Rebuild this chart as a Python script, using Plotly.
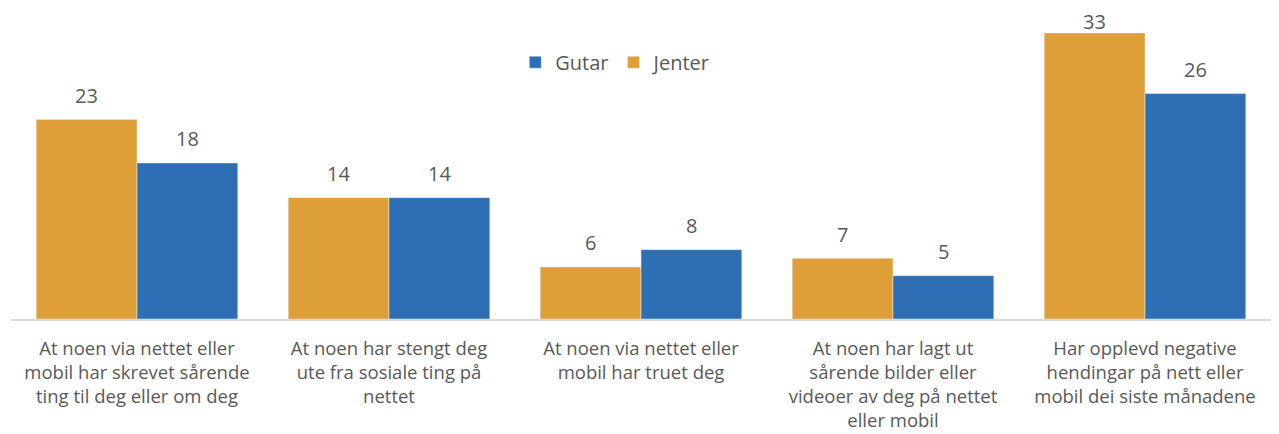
import plotly.graph_objects as go

categories = [
    "At noen via nettet eller<br>mobil har skrevet sårende<br>ting til deg eller om deg",
    "At noen har stengt deg<br>ute fra sosiale ting på<br>nettet",
    "At noen via nettet eller<br>mobil har truet deg",
    "At noen har lagt ut<br>sårende bilder eller<br>videoer av deg på nettet<br>eller mobil",
    "Har opplevd negative<br>hendingar på nett eller<br>mobil dei siste månadene",
]
jenter = [23, 14, 6, 7, 33]
gutar = [18, 14, 8, 5, 26]

font_family = "Open Sans, Noto Sans, sans-serif"
text_color = "#595959"
colors = {"Jenter": "#DF9F38", "Gutar": "#2D6EB5"}

height = 434
margin = dict(l=11, r=8, t=0, b=115)
y_max = 36.8
plot_h = height - margin["t"] - margin["b"]
px_per_unit = plot_h / y_max

fig = go.Figure()
for name, vals in (("Jenter", jenter), ("Gutar", gutar)):
    fig.add_trace(go.Bar(
        name=name, x=categories, y=vals, marker_color=colors[name],
        offsetgroup=name,
    ))

# value labels above each bar, kept inside the plot area near the top
offsets = {"Jenter": -0.2, "Gutar": 0.2}
for name, vals in (("Jenter", jenter), ("Gutar", gutar)):
    for i, v in enumerate(vals):
        room = plot_h - 22 - v * px_per_unit
        fig.add_annotation(
            x=i + offsets[name], y=v, xref="x", yref="y",
            text=str(v), showarrow=False, yanchor="middle",
            yshift=min(24, room),
            font=dict(size=20, color=text_color, family=font_family),
        )

fig.update_layout(
    width=1279, height=height,
    margin=margin,
    barmode="group", bargap=0.2, bargroupgap=0,
    plot_bgcolor="white", paper_bgcolor="white",
    font=dict(family=font_family, color=text_color, size=20),
    showlegend=True,
    legend=dict(
        orientation="h", traceorder="reversed",
        x=0.48, y=0.805, xanchor="center", yanchor="middle",
        font=dict(size=20, color=text_color),
        itemwidth=30,
    ),
)
fig.update_xaxes(
    showline=True, linecolor="#D9D9D9", linewidth=2,
    tickfont=dict(size=18.5, color=text_color, family=font_family),
    ticks="", tickangle=0, ticklabelstandoff=12, automargin=False,
)
fig.update_yaxes(
    range=[0, y_max], visible=False, showgrid=False,
)

fig.write_html("out.html")
